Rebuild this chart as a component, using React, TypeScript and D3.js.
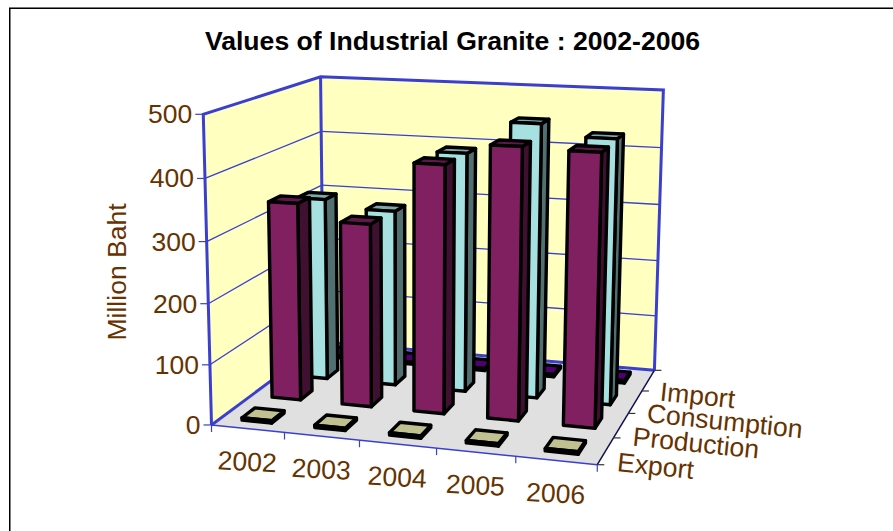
import React from "react";
import * as d3 from "d3";

const categories = ["2002", "2003", "2004", "2005", "2006"];
const seriesNames = ["Export", "Production", "Consumption", "Import"];
const exportValues = [4, 4, 4, 4, 4];
const productionValues = [335, 308, 412, 447, 444];
const consumptionValues = [318, 305, 410, 465, 446];
const importValues = [4, 4, 4, 4, 4];
const seriesValues = [exportValues, productionValues, consumptionValues, importValues];
const valueTicks = [0, 100, 200, 300, 400, 500];

const W = 893, H = 531;
const brown = "#663300";
const blue = "#3a3fd0";
const fs = 26.5;

// [cat units, series units, value units] => [px, px] calibration of the 3D frame
const calib: [number, number, number, number, number][] = [
  [0, 0, 0, 213, 425],
  [5, 0, 0, 597, 465],
  [5, 4, 0, 655, 370],
  [0, 4, 0, 322, 342],
  [0, 0, 500, 202, 114],
  [0, 4, 500, 322, 77],
  [5, 4, 500, 663, 90],
];

function solve(A: number[][], b: number[]) {
  const n = b.length;
  const M = A.map((r, i) => [...r, b[i]]);
  for (let i = 0; i < n; i++) {
    let p = i;
    for (let k = i + 1; k < n; k++) if (Math.abs(M[k][i]) > Math.abs(M[p][i])) p = k;
    [M[i], M[p]] = [M[p], M[i]];
    for (let k = 0; k < n; k++) {
      if (k === i) continue;
      const f = M[k][i] / M[i][i];
      for (let j = i; j <= n; j++) M[k][j] -= f * M[i][j];
    }
  }
  return M.map((r, i) => r[n] / r[i]);
}

function fitProjection() {
  const rows: number[][] = [];
  const rhs: number[] = [];
  calib.forEach(([x, y, z0, u, v]) => {
    const z = z0 / 100;
    rows.push([x, y, z, 1, 0, 0, 0, 0, -u * x, -u * y, -u * z]);
    rhs.push(u);
    rows.push([0, 0, 0, 0, x, y, z, 1, -v * x, -v * y, -v * z]);
    rhs.push(v);
  });
  const ATA = d3.range(11).map((i) => d3.range(11).map((j) => d3.sum(rows, (r) => r[i] * r[j])));
  const ATb = d3.range(11).map((i) => d3.sum(rows, (r, k) => r[i] * rhs[k]));
  return solve(ATA, ATb);
}
const P = fitProjection();
const project = (x: number, y: number, zv: number): [number, number] => {
  const z = zv / 100;
  const w = P[8] * x + P[9] * y + P[10] * z + 1;
  return [(P[0] * x + P[1] * y + P[2] * z + P[3]) / w, (P[4] * x + P[5] * y + P[6] * z + P[7]) / w];
};
const poly = (pts: [number, number][]) => d3.line()(pts)! + "Z";

const seriesColors = [
  { front: "#c0c090", side: "#606048", top: "#c0c090" },
  { front: "#802060", side: "#401030", top: "#601848" },
  { front: "#a6e0e0", side: "#537070", top: "#7da8a8" },
  { front: "#500070", side: "#280038", top: "#500070" },
];
const barWidthFrac = 0.41;
const barDepthFrac = 0.42;

export default function App() {
  const bars: React.ReactNode[] = [];
  d3.range(seriesNames.length - 1, -1, -1).forEach((s) => {
    categories.forEach((_, c) => {
      const v = seriesValues[s][c];
      const x0 = c + 0.5 - barWidthFrac / 2, x1 = c + 0.5 + barWidthFrac / 2;
      const y0 = s + 0.5 - barDepthFrac / 2, y1 = s + 0.5 + barDepthFrac / 2;
      const col = seriesColors[s];
      const st = { stroke: "#000", strokeWidth: 3.4, strokeLinejoin: "round" as const };
      bars.push(
        <g key={`${s}-${c}`}>
          <path d={poly([project(x1, y0, 0), project(x1, y1, 0), project(x1, y1, v), project(x1, y0, v)])} fill={col.side} {...st} />
          <path d={poly([project(x0, y0, v), project(x1, y0, v), project(x1, y1, v), project(x0, y1, v)])} fill={col.top} {...st} />
          <path d={poly([project(x0, y0, 0), project(x1, y0, 0), project(x1, y0, v), project(x0, y0, v)])} fill={col.front} {...st} />
        </g>
      );
    });
  });
  const tickLine = (a: [number, number], b: [number, number], color: string, w = 1.2, key?: string) => (
    <line key={key} x1={a[0]} y1={a[1]} x2={b[0]} y2={b[1]} stroke={color} strokeWidth={w} />
  );
  return (
    <svg width={W} height={H} style={{ position: "absolute", left: 0, top: 0, fontFamily: "'Liberation Sans', Arial, sans-serif" }}>
      <rect x={0} y={0} width={W} height={H} fill="#fff" />
      <line x1={9} y1={7.5} x2={W} y2={7.5} stroke="#777" strokeWidth={1} />
      <line x1={9} y1={8.5} x2={W} y2={8.5} stroke="#000" strokeWidth={1} />
      <line x1={9.75} y1={8} x2={9.75} y2={H} stroke="#000" strokeWidth={1.5} />
      <text x={452.5} y={50} textAnchor="middle" fontSize={26.6} fontWeight="bold" fill="#000">Values of Industrial Granite : 2002-2006</text>

      <path d={poly([project(0, 0, 0), project(0, 4, 0), project(0, 4, 500), project(0, 0, 500)])} fill="#ffffc0" />
      <path d={poly([project(0, 4, 0), project(5, 4, 0), project(5, 4, 500), project(0, 4, 500)])} fill="#ffffc0" />
      <path d={poly([project(0, 0, 0), project(5, 0, 0), project(5, 4, 0), project(0, 4, 0)])} fill="#e0e0e0" />

      {valueTicks.slice(1, -1).map((v) => (
        <g key={v}>
          {tickLine(project(0, 0, v), project(0, 4, v), blue, 1.3)}
          {tickLine(project(0, 4, v), project(5, 4, v), blue, 1.3)}
        </g>
      ))}
      <path d={d3.line()([project(0, 0, 0), project(0, 0, 500), project(0, 4, 500), project(5, 4, 500), project(5, 4, 0)])!} fill="none" stroke={blue} strokeWidth={3} />
      {tickLine(project(0, 4, 0), project(0, 4, 500), blue, 3)}
      {tickLine(project(0, 0, 0), project(0, 4, 0), blue, 3)}
      {tickLine(project(0, 4, 0), project(5, 4, 0), blue, 3)}
      {tickLine(project(0, 0, 0), project(5, 0, 0), blue, 1.5)}
      {tickLine(project(5, 0, 0), project(5, 4, 0), "#101050", 1.5)}

      {valueTicks.map((v) => {
        const [x, y] = project(0, 0, v);
        return (
          <g key={v}>
            {tickLine([x - 8, y], [x, y], blue, 1.2)}
            <text x={x - 11} y={y + 9} textAnchor="end" fontSize={fs} fill={brown}>{v}</text>
          </g>
        );
      })}
      <text transform="translate(126,272) rotate(-90)" textAnchor="middle" fontSize={fs} fill={brown}>Million Baht</text>

      {d3.range(0, 6).map((c) => {
        const a = project(c, 0, 0);
        return <g key={c}>{tickLine(a, [a[0], a[1] + 7], blue, 1.2)}</g>;
      })}
      {d3.range(0, 5).map((s) => {
        const a = project(5, s, 0);
        return <g key={s}>{tickLine(a, [a[0] + 7, a[1]], "#333", 1.2)}</g>;
      })}
      {categories.map((c, i) => {
        const [x, y] = project(i + 0.5, 0, 0);
        return (
          <text key={c} transform={`translate(${x - 1},${y + 42}) rotate(3)`} textAnchor="middle" fontSize={fs} fill={brown}>{c}</text>
        );
      })}
      {seriesNames.map((n, s) => {
        const [x, y] = project(5, s + 0.5, 0);
        return (
          <text key={n} transform={`translate(${x + 11},${y + 20}) rotate(6)`} fontSize={fs} fill={brown}>{n}</text>
        );
      })}

      {bars}
    </svg>
  );
}
